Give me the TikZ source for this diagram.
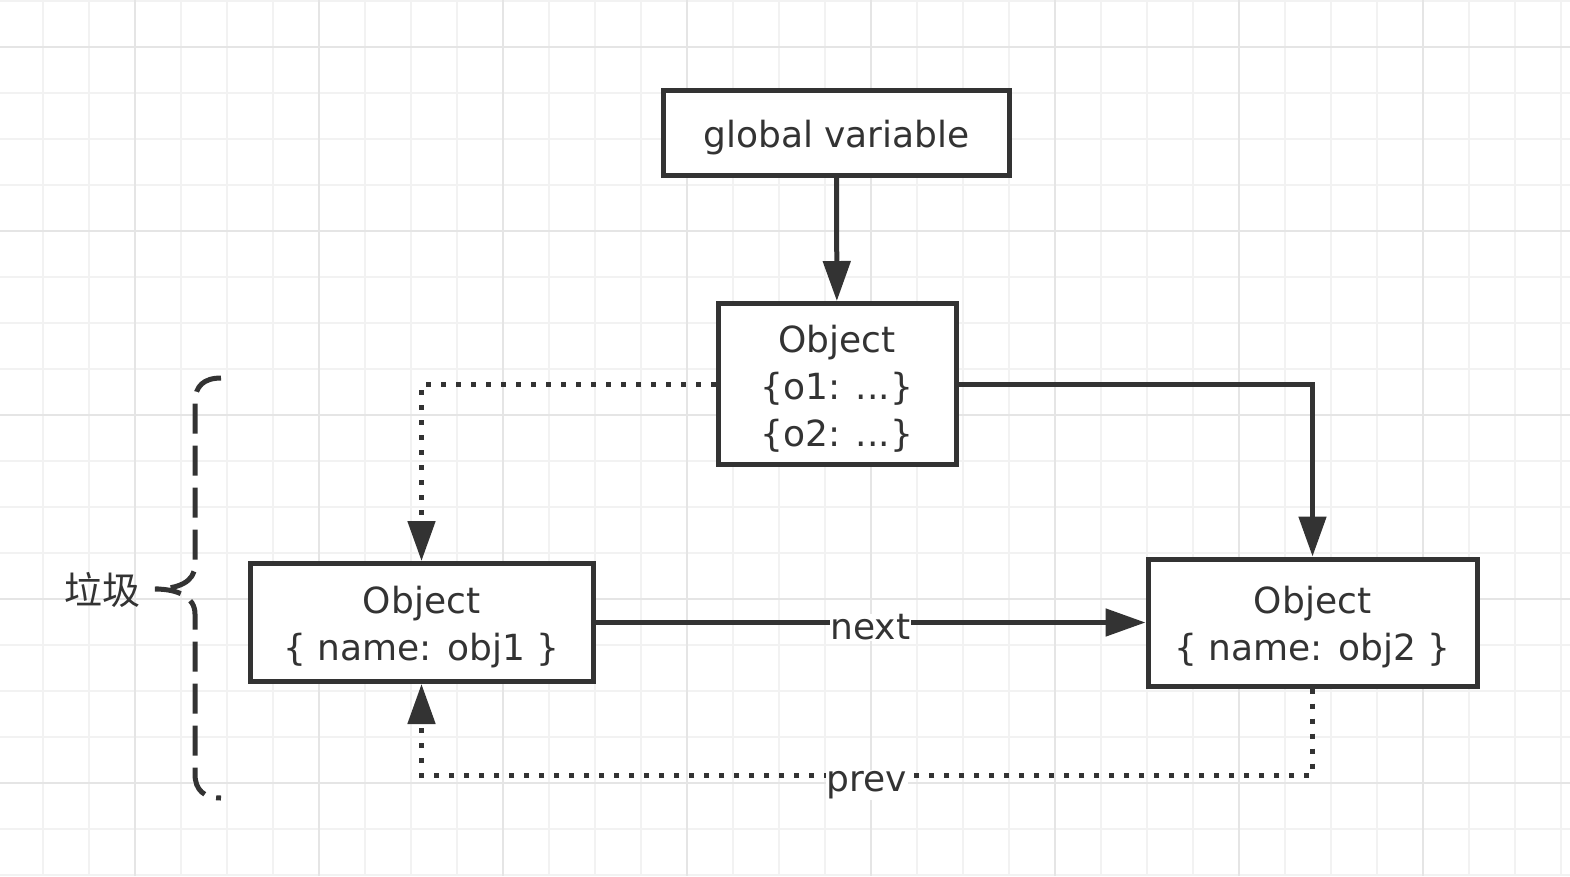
\documentclass[tikz,border=0pt]{standalone}
\usepackage{fontspec}
\setmainfont{DejaVu Sans}
\newfontfamily\cjkfont{Noto Sans CJK SC}
\usepackage{xcolor}
\usetikzlibrary{arrows.meta, positioning}
\definecolor{inkgray}{HTML}{333333}
\definecolor{gridminor}{HTML}{F2F2F2}
\definecolor{gridmajor}{HTML}{E5E5E5}
\newcommand{\padtop}{\rule{0pt}{37pt}}

\begin{document}
\begin{tikzpicture}[x=1pt, y=-1pt,
    objbox/.style={draw=inkgray, line width=5pt, fill=white, inner sep=0pt,
        align=center, text=inkgray, font=\fontsize{36}{47}\selectfont},
    link/.style={draw=inkgray, line width=5pt, -{Triangle[length=40pt, width=27pt]}},
    weaklink/.style={link, dash pattern=on 5pt off 10pt},
    edgelabel/.style={fill=white, text=inkgray, inner sep=1pt, font=\fontsize{36}{40}\selectfont}]
        \useasboundingbox (0,0) rectangle (1570,876);
        \fill[white] (0,0) rectangle (1570,876);
        % grid
        \foreach \gx in {1,...,34} {
            \draw[gridminor, line width=2pt] ({-3+46*\gx},0) -- ({-3+46*\gx},876);
        }
        \foreach \gy in {0,...,19} {
            \draw[gridminor, line width=2pt] (0,{0.7+46*\gy}) -- (1570,{0.7+46*\gy});
        }
        \foreach \gx in {0,...,7} {
            \draw[gridmajor, line width=2pt] ({135+184*\gx},0) -- ({135+184*\gx},876);
        }
        \foreach \gy in {0,...,4} {
            \draw[gridmajor, line width=2pt] (0,{46.7+184*\gy}) -- (1570,{46.7+184*\gy});
        }

        % objects
        \node[objbox, minimum width=346pt, minimum height=85pt] (global) at (836.5,132.5) {\padtop global variable};
        \node[objbox, minimum width=238pt, minimum height=161pt] (root) at (837,384) {\padtop Object\\\{o1: ...\}\\\{o2: ...\}};
        \node[objbox, minimum width=343pt, minimum height=118pt] (obj1) at (421.5,622.5) {\padtop Object\\\{ name: obj1 \}};
        \node[objbox, minimum width=329pt, minimum height=127pt] (obj2) at (1312.5,622.5) {\padtop Object\\\{ name: obj2 \}};
        \coordinate (prevrow) at (0,775);

        % references
        \draw[link] (global) -- (root);
        \draw[link] (root.east) -| (obj2.north);
        \draw[weaklink] (root.west) -| (obj1.north);
        \draw[link] (obj1.east) -- node[edgelabel, yshift=-5pt] {next} (obj2.west);
        \draw[weaklink] (obj2.south) -- (obj2.south |- prevrow)
            -- node[edgelabel, yshift=-10pt] {prev} (obj1.south |- prevrow) -- (obj1.south);

        % garbage brace
        \node[text=inkgray, font=\cjkfont\fontsize{38}{42}\selectfont] (garbage) at (102,590) {垃圾};
        \draw[inkgray, line width=5pt, dash pattern=on 30pt off 12pt]
            (221,378) .. controls (204,378) and (195,386) .. (195,402)  % 上端
            -- (195,565)
            .. controls (195,582) and (178,589) .. (155,589)            % 尖角
            .. controls (178,589) and (195,597) .. (195,614)
            -- (195,774)
            .. controls (195,790) and (204,798) .. (221,798);           % 下端
\end{tikzpicture}
\end{document}
